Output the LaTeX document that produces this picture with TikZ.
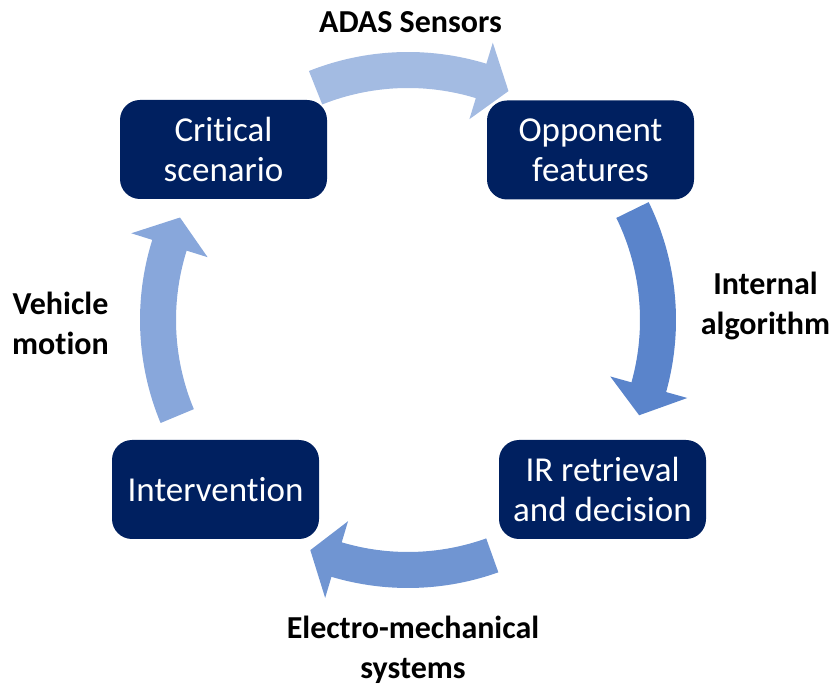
\documentclass[tikz,border=0pt]{standalone}
\usepackage{fontspec}
\setmainfont[Ligatures=NoCommon]{Carlito}
\definecolor{boxnavy}{HTML}{002060}
\definecolor{arrtop}{HTML}{A3BBE2}
\definecolor{arrright}{HTML}{5A84CB}
\definecolor{arrbottom}{HTML}{7095D2}
\definecolor{arrleft}{HTML}{88A7DB}
\newcommand\cycarrow[4]{%
  \fill[#4] (#1:268pt) arc[start angle=#1, end angle=#2, radius=268pt]
    -- (#2:290pt) -- (#3:250pt) -- (#2:210pt) -- (#2:232pt)
    arc[start angle=#2, end angle=#1, radius=232pt] -- cycle;}
\tikzset{
  stagebox/.style={fill=boxnavy, rounded corners=20pt, minimum width=207pt,
    minimum height=99pt, text=white, align=center, inner sep=0pt,
    font=\fontsize{35}{40}\selectfont},
  steplabel/.style={align=center, inner sep=0pt, text=black,
    font=\fontsize{32}{40}\selectfont\bfseries}
}
\begin{document}
\begin{tikzpicture}[x=1pt,y=1pt]
\useasboundingbox (0,0) rectangle (835,691);
% cycle arrows around centre (408,320)
\begin{scope}[shift={(408pt,371pt)}]
  \coordinate (ctr) at (0,0);
  \cycarrow{111.7}{73}{66.3}{arrtop}
  \cycarrow{26.1}{-15.6}{-22.4}{arrright}
  \cycarrow{-70.3}{-106.6}{-113}{arrbottom}
  \cycarrow{202.6}{162.6}{155.8}{arrleft}
\end{scope}
% stage boxes
\node[stagebox] (crit) at (223.5,541.5) {Critical\\scenario};
\node[stagebox] (opp) at (590.5,541) {Opponent\\features};
\node[stagebox] (ir) at (602.5,201.5) {IR retrieval\\and decision};
\node[stagebox] (interv) at (215.5,201.5) {Intervention};
% labels
\node[steplabel, anchor=base] (adas) at (410.5,658) {ADAS Sensors};
\node[steplabel, anchor=base] (alg) at (765.5,356) {Internal\\algorithm};
\node[steplabel, anchor=base] (veh) at (60.5,336) {Vehicle\\motion};
\node[steplabel, anchor=base] (elec) at (413,13) {Electro-mechanical\\systems};
\end{tikzpicture}
\end{document}
